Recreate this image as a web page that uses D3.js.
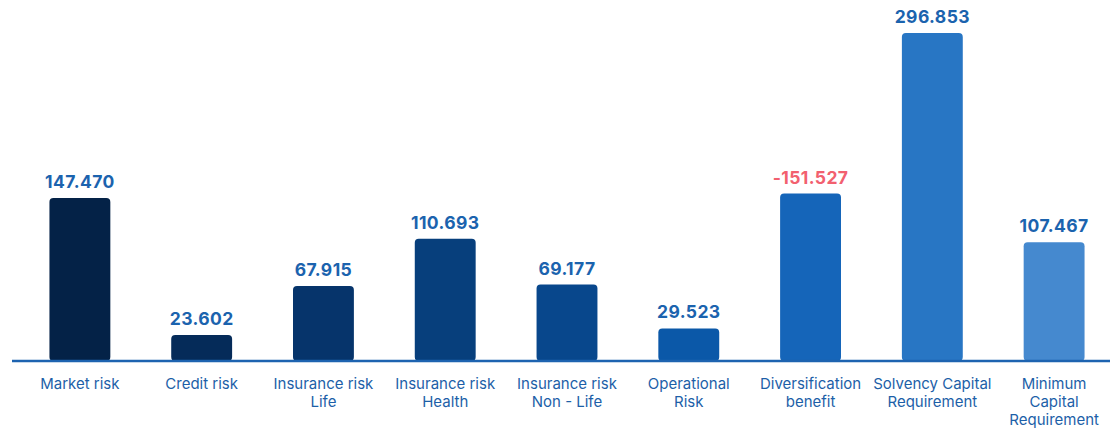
<!DOCTYPE html>
<html>
<head>
<meta charset="utf-8">
<script src="https://cdn.jsdelivr.net/npm/d3@7"></script>
<style>
  html, body { margin: 0; padding: 0; background: #ffffff; }
  svg { display: block; }
</style>
</head>
<body>
<svg id="chart" width="1110" height="429"></svg>
<script>
// Solvency capital requirement breakdown (values in thousands)
const categories = [
  ["Market risk"],
  ["Credit risk"],
  ["Insurance risk", "Life"],
  ["Insurance risk", "Health"],
  ["Insurance risk", "Non - Life"],
  ["Operational", "Risk"],
  ["Diversification", "benefit"],
  ["Solvency Capital", "Requirement"],
  ["Minimum", "Capital", "Requirement"]
];
const values = [147.470, 23.602, 67.915, 110.693, 69.177, 29.523, -151.527, 296.853, 107.467];
const valueLabels = ["147.470", "23.602", "67.915", "110.693", "69.177", "29.523", "-151.527", "296.853", "107.467"];
const barColors = ["#042247", "#052b59", "#06346b", "#073f7c", "#08478c", "#0b58a8", "#1565b9", "#2876c4", "#4589cf"];

const svg = d3.select("#chart");
const font = "Inter, 'Noto Sans', Arial, sans-serif";
const baseY = 361;

const x = d3.scaleBand()
  .domain(d3.range(categories.length))
  .range([19, 1115])
  .paddingInner(0.5)
  .paddingOuter(0.25);

// Bars are drawn by magnitude; the diversification benefit is negative
const y = d3.scaleLinear()
  .domain([0, 296.853])
  .range([baseY, 33]);

const g = svg.append("g");

g.selectAll("rect.bar")
  .data(values)
  .join("rect")
  .attr("class", "bar")
  .attr("x", (d, i) => x(i))
  .attr("y", d => y(Math.abs(d)))
  .attr("width", x.bandwidth())
  .attr("height", d => baseY - y(Math.abs(d)))
  .attr("rx", 4)
  .attr("ry", 4)
  .attr("fill", (d, i) => barColors[i]);

// Baseline
svg.append("line")
  .attr("x1", 12).attr("x2", 1110)
  .attr("y1", baseY).attr("y2", baseY)
  .attr("stroke", "#1d63b0")
  .attr("stroke-width", 2.5);

// Value labels
g.selectAll("text.val")
  .data(values)
  .join("text")
  .attr("class", "val")
  .attr("x", (d, i) => x(i) + x.bandwidth() / 2)
  .attr("y", d => y(Math.abs(d)) - 10)
  .attr("text-anchor", "middle")
  .attr("font-family", font)
  .attr("font-weight", 700)
  .attr("font-size", 17.5)
  .attr("letter-spacing", 0.4)
  .attr("fill", d => d < 0 ? "#f2606f" : "#1b63ae")
  .text((d, i) => valueLabels[i]);

// Category labels
const cat = g.selectAll("text.cat")
  .data(categories)
  .join("text")
  .attr("class", "cat")
  .attr("x", (d, i) => x(i) + x.bandwidth() / 2)
  .attr("y", 388.5)
  .attr("text-anchor", "middle")
  .attr("font-family", font)
  .attr("font-size", 15)
  .attr("fill", "#1d5fa8");

cat.selectAll("tspan")
  .data(d => d)
  .join("tspan")
  .attr("x", function () { return d3.select(this.parentNode).attr("x"); })
  .attr("dy", (d, i) => i === 0 ? 0 : 18)
  .text(d => d);
</script>
</body>
</html>
